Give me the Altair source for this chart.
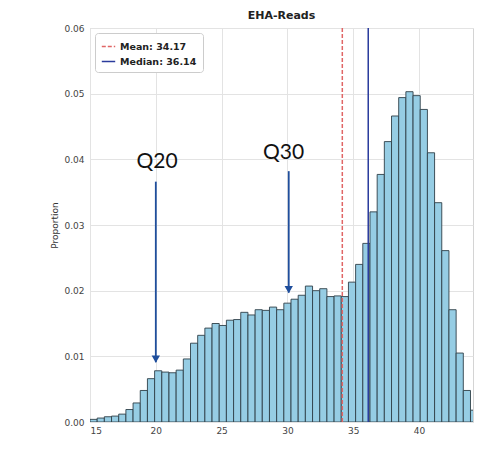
import altair as alt
import pandas as pd

# ---------------- data ----------------
chart_title = "EHA-Reads"
bin_first = 15.0
bin_width = 30 / 55
proportions = [
    0.0004, 0.0006, 0.0008, 0.0009, 0.0012, 0.0019, 0.0029, 0.0048, 0.0066, 0.0078,
    0.0076, 0.0075, 0.0079, 0.0096, 0.0120, 0.0132, 0.0143, 0.0150, 0.0147, 0.0155,
    0.0156, 0.0167, 0.0163, 0.0171, 0.0170, 0.0175, 0.0171, 0.0181, 0.0187, 0.0193,
    0.0207, 0.0200, 0.0203, 0.0191, 0.0192, 0.0191, 0.0213, 0.0240, 0.0272, 0.0320,
    0.0377, 0.0427, 0.0466, 0.0494, 0.0503, 0.0497, 0.0476, 0.0410, 0.0334, 0.0261,
    0.0171, 0.0105, 0.0048, 0.0018,
]
stat_labels = ["Mean: 34.17", "Median: 36.14"]
stat_values = [34.17, 36.14]
stat_colors = ["#e06666", "#2a3b9c"]
stat_dashes = [[4, 2], [1, 0]]

q_labels = ["Q20", "Q30"]
q_x = [20.0, 30.1]
q_arrow_top = [0.0366, 0.0382]
q_arrow_tip = [0.0091, 0.0197]
q_text_x = [20.1, 29.7]
q_text_y = [0.0396, 0.0410]

x_ticks = [15, 20, 25, 30, 35, 40]
y_ticks = [0.00, 0.01, 0.02, 0.03, 0.04, 0.05, 0.06]
x_domain = [15, 44.1]
y_domain = [0, 0.06]

# ---------------- tables ----------------
bars_df = pd.DataFrame({
    "start": [bin_first + i * bin_width for i in range(len(proportions))],
    "end": [bin_first + (i + 1) * bin_width for i in range(len(proportions))],
    "prop": proportions,
})
stats_df = pd.DataFrame({"stat": stat_labels, "x": stat_values})
q_df = pd.DataFrame({
    "label": q_labels, "x": q_x, "top": q_arrow_top, "tip": q_arrow_tip,
    "tx": q_text_x, "ty": q_text_y,
})

xs = alt.Scale(domain=x_domain, nice=False, zero=False)
ys = alt.Scale(domain=y_domain, nice=False)

x_axis = alt.Axis(values=x_ticks, title=None, format="d", labelPadding=4)
y_axis = alt.Axis(values=y_ticks, title="Proportion", format=".2f",
                  labelPadding=6, titlePadding=4)

bars = alt.Chart(bars_df).mark_bar(
    fill="#96cde4", stroke="#2f3f47", strokeWidth=0.9, clip=True
).encode(
    x=alt.X("start:Q", scale=xs, axis=x_axis),
    x2="end:Q",
    y=alt.Y("prop:Q", scale=ys, axis=y_axis),
    y2=alt.datum(0),
)

legend = alt.Legend(
    title=None, orient="top-left", offset=5, fillColor="white",
    strokeColor="#cccccc", padding=6, cornerRadius=3,
    labelFontWeight="bold", labelFontSize=9.5, labelColor="#222222",
    symbolType="stroke", symbolSize=180, symbolStrokeWidth=1.5, rowPadding=3,
)

stat_rules = alt.Chart(stats_df).mark_rule(strokeWidth=1.5).encode(
    x=alt.X("x:Q", scale=xs),
    color=alt.Color("stat:N", scale=alt.Scale(domain=stat_labels, range=stat_colors),
                    legend=legend),
    strokeDash=alt.StrokeDash("stat:N", scale=alt.Scale(domain=stat_labels, range=stat_dashes),
                              legend=legend),
)

arrow_lines = alt.Chart(q_df).mark_rule(color="#1f4e9c", strokeWidth=1.8).encode(
    x=alt.X("x:Q", scale=xs),
    y=alt.Y("top:Q", scale=ys),
    y2="tip:Q",
)

arrow_heads = alt.Chart(q_df).mark_point(
    shape="triangle-down", filled=True, color="#1f4e9c", size=70, opacity=1, yOffset=-3
).encode(
    x=alt.X("x:Q", scale=xs),
    y=alt.Y("tip:Q", scale=ys),
)

q_text = alt.Chart(q_df).mark_text(
    font="Lato", fontSize=21, color="#111111", baseline="middle", align="center"
).encode(
    x=alt.X("tx:Q", scale=xs),
    y=alt.Y("ty:Q", scale=ys),
    text="label:N",
)

chart = alt.layer(bars, stat_rules, arrow_lines, arrow_heads, q_text).properties(
    width=383,
    height=394,
    title=alt.TitleParams(chart_title, fontSize=11, fontWeight="bold",
                          font="DejaVu Sans", color="#222222", offset=3),
    autosize=alt.AutoSizeParams(type="none"),
    padding={"left": 82, "top": 20, "right": 2, "bottom": 14},
).configure(
    font="DejaVu Sans",
).configure_view(
    stroke="#d4d4d4", strokeWidth=1,
).configure_axis(
    grid=True, gridColor="#e3e3e3", gridWidth=1, domain=False, ticks=False,
    labelFont="DejaVu Sans", labelFontSize=9, labelColor="#444444",
    titleFont="DejaVu Sans", titleFontSize=9, titleFontWeight="normal", titleColor="#333333",
).configure_legend(
    labelFont="DejaVu Sans",
)

chart.save("out.html", embed_options={"renderer": "svg", "actions": False})
